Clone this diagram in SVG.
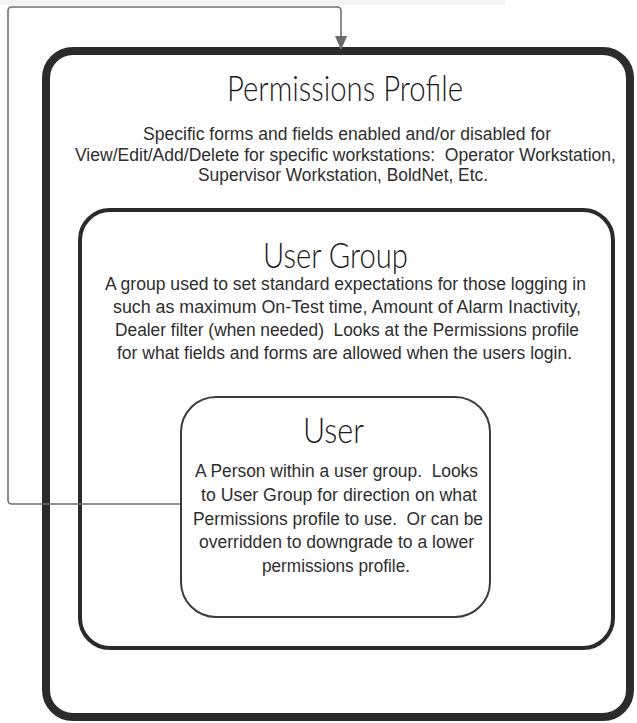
<svg xmlns="http://www.w3.org/2000/svg" width="637" height="723" viewBox="0 0 637 723" xml:space="preserve">
<defs>
<style>
.title{font-family:Lato,"Noto Sans",sans-serif;font-weight:300;font-size:36px;fill:#1a1a1a;text-anchor:middle}
.body{font-family:"Liberation Sans",Arial,sans-serif;font-size:17.5px;fill:#2e2e2e;text-anchor:middle;white-space:pre}
.conn{fill:none;stroke:#707070;stroke-width:1.6}
</style>
<marker id="arr" markerWidth="14" markerHeight="12" refX="13" refY="6" orient="auto" markerUnits="userSpaceOnUse">
<path d="M0,0 L14,6 L0,12 Z" fill="#6a6a6a"/>
</marker>
</defs>
<rect width="637" height="723" fill="#ffffff"/>
<rect x="0" y="0" width="505" height="5" fill="#f2f2f2"/>
<g id="permissions-profile">
<rect x="46" y="51" width="584" height="666" rx="27" fill="#ffffff" stroke="#2b2b2b" stroke-width="8"/>
<text class="title" x="345" y="101" textLength="236" lengthAdjust="spacingAndGlyphs">Permissions Profile</text>
<text class="body" x="347" y="140" textLength="408" lengthAdjust="spacingAndGlyphs">Specific forms and fields enabled and/or disabled for</text>
<text class="body" x="345.5" y="161" textLength="541" lengthAdjust="spacingAndGlyphs">View/Edit/Add/Delete for specific workstations:  Operator Workstation,</text>
<text class="body" x="343" y="181" textLength="290" lengthAdjust="spacingAndGlyphs">Supervisor Workstation, BoldNet, Etc.</text>
</g>
<g id="user-group">
<rect x="80" y="210" width="533" height="438" rx="30" fill="#ffffff" stroke="#2b2b2b" stroke-width="4"/>
<text class="title" x="335.5" y="268" textLength="145" lengthAdjust="spacingAndGlyphs">User Group</text>
<text class="body" x="345.5" y="289.5" textLength="481" lengthAdjust="spacingAndGlyphs">A group used to set standard expectations for those logging in</text>
<text class="body" x="347" y="312.5" textLength="468" lengthAdjust="spacingAndGlyphs">such as maximum On-Test time, Amount of Alarm Inactivity,</text>
<text class="body" x="347" y="335.5" textLength="464" lengthAdjust="spacingAndGlyphs">Dealer filter (when needed)  Looks at the Permissions profile</text>
<text class="body" x="344.5" y="358.5" textLength="455" lengthAdjust="spacingAndGlyphs">for what fields and forms are allowed when the users login.</text>
</g>
<g id="user">
<rect x="181" y="397" width="309" height="220" rx="35" fill="#ffffff" stroke="#3c3c3c" stroke-width="2"/>
<text class="title" x="333.5" y="443" textLength="61" lengthAdjust="spacingAndGlyphs">User</text>
<text class="body" x="336.5" y="477" textLength="283" lengthAdjust="spacingAndGlyphs">A Person within a user group.  Looks</text>
<text class="body" x="339" y="501" textLength="276" lengthAdjust="spacingAndGlyphs">to User Group for direction on what</text>
<text class="body" x="338" y="525" textLength="290" lengthAdjust="spacingAndGlyphs">Permissions profile to use.  Or can be</text>
<text class="body" x="336.5" y="548" textLength="275" lengthAdjust="spacingAndGlyphs">overridden to downgrade to a lower</text>
<text class="body" x="336" y="572" textLength="148" lengthAdjust="spacingAndGlyphs">permissions profile.</text>
</g>
<g id="connectors">
<path class="conn" d="M180,504 L12,504 Q8,504 8,500 L8,11 Q8,7 12,7 L337,7 Q341,7 341,11 L341,49" marker-end="url(#arr)"/>
</g>
</svg>
